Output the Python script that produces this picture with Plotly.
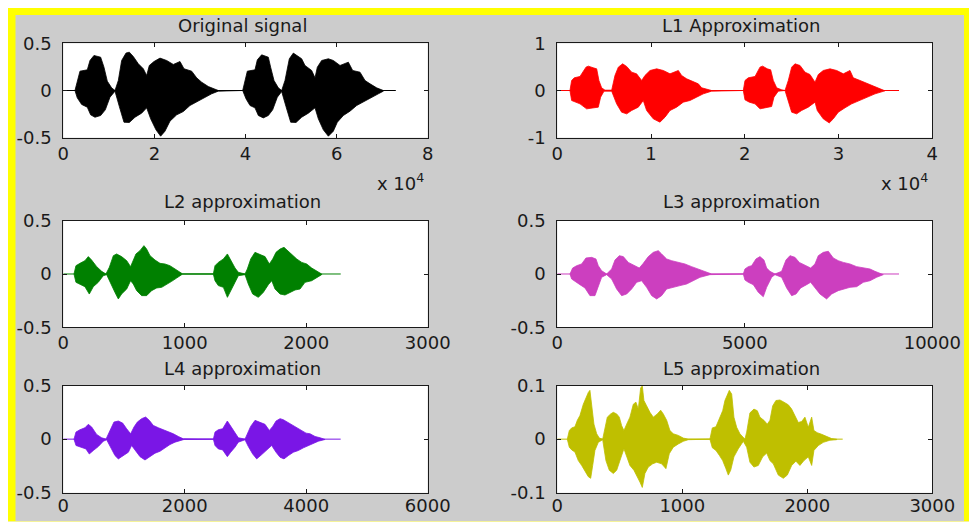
import plotly.graph_objects as go

# ---------------------------------------------------------------
# Envelope of each waveform (upper and lower edges, both words)
# ---------------------------------------------------------------
orig_up_x = [2560, 3070, 3660, 5270, 5860, 6730, 8200, 8930, 9660, 10610, 11350,
             12080, 12810, 13760, 14490, 15370, 16470, 17570, 18300,
             18880, 19910, 21230, 22690, 24150, 25620, 26500, 28180, 29280, 30380, 31840, 33300, 34030,
             39380, 39890, 40400, 42080, 42600, 43550, 45010, 45520, 46260, 47210, 47940,
             48670, 49620, 50500, 51380, 52330, 53060, 54530, 55260,
             55770, 56720, 58190, 59280, 60750, 62580, 63530, 65140, 66240, 67340, 68800, 70260]
orig_up_y = [0, 0.088, 0.205, 0.219, 0.318, 0.371, 0.353, 0.247, 0.099, 0.028, 0,
             0.106, 0.318, 0.396, 0.406, 0.360, 0.283, 0.230, 0.159,
             0.265, 0.307, 0.343, 0.318, 0.276, 0.307, 0.230, 0.205, 0.134, 0.088, 0.042, 0.014, 0,
             0, 0.106, 0.205, 0.219, 0.325, 0.378, 0.353, 0.247, 0.106, 0.028, 0,
             0.106, 0.336, 0.396, 0.371, 0.336, 0.265, 0.212, 0.134,
             0.247, 0.318, 0.336, 0.318, 0.265, 0.300, 0.212, 0.194, 0.106, 0.071, 0.028, 0]
orig_lo_x = [2560, 3070, 4030, 5270, 6000, 6950, 8200, 9220, 10250, 11350,
             12300, 13320, 14490, 15740, 17200, 18300,
             19180, 20350, 21370, 22320, 23420, 24890, 26350, 27810, 29280, 30890, 32570, 34030,
             39380, 40110, 40990, 42080, 42820, 43910, 45010, 45960, 46990, 47940,
             48890, 49920, 51090, 52330, 53800, 55260,
             55990, 57090, 58190, 59280, 60160, 61480, 62940, 64410, 65870, 67480, 69170, 70260]
orig_lo_y = [0, -0.078, -0.148, -0.177, -0.258, -0.283, -0.265, -0.205, -0.071, -0.007,
             -0.170, -0.336, -0.339, -0.283, -0.240, -0.184,
             -0.300, -0.417, -0.484, -0.431, -0.325, -0.258, -0.223, -0.159, -0.117, -0.081, -0.035, -0.007,
             0, -0.088, -0.159, -0.184, -0.265, -0.290, -0.265, -0.205, -0.071, -0.011,
             -0.170, -0.336, -0.339, -0.283, -0.240, -0.184,
             -0.300, -0.417, -0.484, -0.431, -0.336, -0.265, -0.219, -0.159, -0.113, -0.078, -0.035, -0.007]

l1_up_x = [1350, 1530, 1810, 2420, 3060, 3310, 3840, 4200, 4440, 4730,
           5090, 5800, 6150, 6510, 6970, 7400, 7930, 8460, 9000, 9350,
           9890, 10600, 11310, 12020, 12910, 13260, 13800, 14510, 15040, 15400,
           15930, 16460,
           19840, 20020, 20370, 21090, 21620, 21900, 22400, 22760, 23040, 23400,
           23930, 24290, 24640, 25000, 25350, 25890, 26420, 26950, 27490, 27840,
           28370, 29090, 29800, 30510, 31220, 31570, 32290, 33000, 33710, 34420,
           34950]
l1_up_y = [0, 0.212, 0.269, 0.297, 0.495, 0.516, 0.481, 0.459, 0.212, 0.057,
           0.007, 0.007, 0.318, 0.495, 0.565, 0.509, 0.389, 0.353, 0.212, 0.318,
           0.424, 0.459, 0.424, 0.353, 0.424, 0.318, 0.247, 0.177, 0.141, 0.057,
           0.035, 0,
           0, 0.212, 0.269, 0.297, 0.495, 0.516, 0.459, 0.438, 0.212, 0.057,
           0.014, 0, 0.212, 0.495, 0.565, 0.530, 0.389, 0.339, 0.177, 0.339,
           0.424, 0.459, 0.424, 0.353, 0.424, 0.269, 0.212, 0.155, 0.085, 0.035,
           0]
l1_lo_x = [1350, 1530, 1890, 2420, 3130, 3840, 4370, 4620, 4980, 5800,
           6330, 6860, 7400, 7930, 8640, 9170, 9530, 10240, 10950, 11490,
           12020, 12730, 13440, 14150, 14860, 15570, 16460,
           19840, 20020, 20480, 21090, 21620, 22330, 22860, 23110, 23570, 24290,
           24640, 25000, 25530, 26060, 26770, 27490, 27730, 28370, 29010, 29440,
           29970, 30690, 31400, 32110, 33000, 33890, 34950]
l1_lo_y = [0, -0.212, -0.247, -0.283, -0.389, -0.367, -0.353, -0.141, -0.014, -0.014,
           -0.283, -0.459, -0.495, -0.424, -0.353, -0.212, -0.424, -0.601, -0.671, -0.565,
           -0.424, -0.353, -0.247, -0.212, -0.141, -0.071, -0.014,
           0, -0.198, -0.247, -0.283, -0.389, -0.367, -0.339, -0.141, -0.014, 0,
           -0.212, -0.459, -0.495, -0.424, -0.353, -0.247, -0.424, -0.601, -0.686, -0.601,
           -0.459, -0.367, -0.283, -0.212, -0.141, -0.071, -0.007]

l2_up_x = [88, 104, 137, 178, 206, 233, 275, 316, 351, 379,
           412, 439, 480, 522, 554, 576, 598, 631, 664, 686,
           714, 755, 796, 837, 878, 920, 961, 983,
           1235, 1249, 1276, 1318, 1351, 1378, 1414, 1441, 1496, 1515,
           1543, 1578, 1614, 1661, 1696, 1724, 1751, 1784, 1817, 1845,
           1880, 1922, 1963, 2004, 2045, 2086, 2127]
l2_up_y = [0, 0.078, 0.100, 0.125, 0.163, 0.131, 0.069, 0.025, 0, 0.063,
           0.172, 0.188, 0.163, 0.125, 0.069, 0.125, 0.188, 0.219, 0.266, 0.234,
           0.172, 0.131, 0.100, 0.094, 0.078, 0.047, 0.016, 0,
           0, 0.078, 0.109, 0.141, 0.188, 0.125, 0.056, 0.016, 0, 0.047,
           0.141, 0.203, 0.188, 0.163, 0.094, 0.141, 0.203, 0.234, 0.250, 0.219,
           0.181, 0.141, 0.109, 0.094, 0.056, 0.031, 0]
l2_lo_x = [88, 104, 137, 178, 214, 247, 288, 329, 357, 384,
           425, 453, 480, 522, 554, 576, 604, 645, 686, 727,
           769, 810, 851, 892, 933, 974, 983,
           1235, 1249, 1276, 1318, 1351, 1378, 1414, 1441, 1496, 1523,
           1559, 1606, 1647, 1688, 1716, 1743, 1784, 1825, 1867, 1908,
           1949, 1990, 2045, 2086, 2127]
l2_lo_y = [0, -0.078, -0.094, -0.119, -0.188, -0.119, -0.078, -0.016, -0.006, -0.078,
           -0.172, -0.234, -0.188, -0.141, -0.063, -0.094, -0.156, -0.203, -0.203, -0.156,
           -0.131, -0.125, -0.094, -0.069, -0.038, -0.006, 0,
           0, -0.063, -0.109, -0.125, -0.219, -0.156, -0.078, -0.016, -0.006, -0.094,
           -0.188, -0.219, -0.172, -0.100, -0.063, -0.141, -0.188, -0.197, -0.172, -0.150,
           -0.141, -0.078, -0.063, -0.031, -0.006]

l3_up_x = [338, 409, 516, 649, 764, 916, 1031, 1093, 1182, 1316,
           1449, 1538, 1653, 1760, 1893, 2027, 2187, 2293, 2427, 2560,
           2693, 2782, 2916, 3049, 3227, 3404, 3582, 3760, 3938, 4116,
           4960, 5004, 5093, 5182, 5298, 5404, 5511, 5582, 5671, 5804,
           5982, 6098, 6204, 6338, 6453, 6542, 6649, 6756, 6871, 6960,
           7093, 7227, 7360, 7493, 7627, 7804, 7982, 8160, 8338, 8471,
           8604, 8693]
l3_up_y = [0, 0.056, 0.078, 0.094, 0.150, 0.156, 0.141, 0.078, 0.031, 0,
           0.047, 0.131, 0.172, 0.163, 0.109, 0.088, 0.056, 0.100, 0.163, 0.203,
           0.219, 0.188, 0.141, 0.125, 0.109, 0.094, 0.069, 0.047, 0.025, 0,
           0, 0.047, 0.069, 0.078, 0.141, 0.163, 0.131, 0.056, 0.025, 0,
           0.025, 0.131, 0.172, 0.156, 0.109, 0.094, 0.069, 0.056, 0.094, 0.172,
           0.203, 0.213, 0.150, 0.125, 0.109, 0.094, 0.069, 0.056, 0.047, 0.025,
           0.006, 0]
l3_lo_x = [338, 382, 516, 604, 738, 871, 1004, 1093, 1182, 1316,
           1449, 1582, 1716, 1849, 1982, 2116, 2249, 2382, 2516, 2649,
           2782, 2916, 3093, 3271, 3449, 3627, 3805, 4071, 4116,
           4960, 5004, 5093, 5227, 5360, 5493, 5582, 5716, 5804, 5982,
           6116, 6249, 6365, 6489, 6649, 6756, 6871, 7004, 7182, 7316,
           7493, 7627, 7804, 7982, 8160, 8338, 8516, 8693]
l3_lo_y = [0, -0.047, -0.078, -0.100, -0.131, -0.203, -0.203, -0.125, -0.031, -0.006,
           -0.047, -0.141, -0.203, -0.188, -0.141, -0.078, -0.063, -0.125, -0.203, -0.234,
           -0.203, -0.141, -0.125, -0.109, -0.094, -0.063, -0.031, -0.006, 0,
           0, -0.056, -0.078, -0.100, -0.172, -0.213, -0.125, -0.031, -0.006, -0.031,
           -0.131, -0.203, -0.188, -0.131, -0.100, -0.078, -0.125, -0.188, -0.234, -0.188,
           -0.156, -0.141, -0.125, -0.119, -0.078, -0.063, -0.031, -0.006]

l4_up_x = [176, 209, 275, 357, 412, 467, 549, 631, 703, 769,
           834, 906, 977, 1043, 1109, 1164, 1219, 1290, 1356, 1416,
           1482, 1565, 1647, 1729, 1812, 1894, 1976,
           2471, 2498, 2553, 2624, 2701, 2756, 2827, 2882, 2992, 3031,
           3085, 3157, 3228, 3321, 3393, 3448, 3503, 3569, 3623, 3689,
           3777, 3854, 3925, 3997, 4063, 4145, 4227, 4310]
l4_up_y = [0, 0.066, 0.088, 0.106, 0.138, 0.113, 0.044, 0.013, 0, 0.081,
           0.159, 0.169, 0.150, 0.097, 0.050, 0.113, 0.159, 0.191, 0.206, 0.175,
           0.128, 0.106, 0.088, 0.066, 0.050, 0.025, 0.003,
           0, 0.066, 0.088, 0.097, 0.169, 0.119, 0.050, 0.013, 0, 0.050,
           0.119, 0.175, 0.159, 0.138, 0.081, 0.119, 0.169, 0.191, 0.181, 0.159,
           0.128, 0.106, 0.081, 0.056, 0.050, 0.025, 0.013, 0]
l4_lo_x = [176, 209, 275, 373, 428, 494, 576, 659, 714, 780,
           851, 906, 977, 1071, 1125, 1180, 1263, 1345, 1427, 1510,
           1592, 1674, 1757, 1839, 1921, 1987,
           2471, 2498, 2553, 2624, 2701, 2756, 2827, 2882, 2992, 3047,
           3118, 3184, 3267, 3349, 3431, 3503, 3569, 3634, 3706, 3788,
           3870, 3953, 4035, 4118, 4200, 4310]
l4_lo_y = [0, -0.059, -0.075, -0.091, -0.138, -0.106, -0.069, -0.019, -0.006, -0.075,
           -0.153, -0.184, -0.153, -0.122, -0.059, -0.106, -0.163, -0.194, -0.163, -0.131,
           -0.113, -0.081, -0.050, -0.028, -0.013, -0.003,
           0, -0.059, -0.091, -0.100, -0.163, -0.122, -0.075, -0.028, -0.006, -0.069,
           -0.138, -0.184, -0.144, -0.106, -0.059, -0.122, -0.169, -0.184, -0.153, -0.122,
           -0.106, -0.081, -0.059, -0.038, -0.019, -0.003]

l5_up_x = [80, 96, 115, 141, 160, 181, 208, 229, 248, 261,
           275, 293, 315, 336, 363, 381, 400, 427, 448, 475,
           496, 515, 533, 555, 581, 608, 629, 648, 667, 680,
           693, 715, 741, 768, 800, 827, 848, 875, 901, 928,
           968, 1008, 1048,
           1221, 1240, 1269, 1296, 1323, 1341, 1360, 1376, 1395, 1413,
           1435, 1461, 1501, 1515, 1541, 1573, 1600, 1621, 1653, 1680,
           1701, 1723, 1749, 1781, 1813, 1848, 1875, 1901, 1928, 1955,
           1981, 2008, 2035, 2053, 2080, 2115, 2155, 2195, 2235]
l5_up_y = [0, 0.016, 0.021, 0.023, 0.035, 0.044, 0.065, 0.078, 0.087, 0.091,
           0.065, 0.028, 0.010, 0.002, 0, 0.022, 0.041, 0.047, 0.050, 0.047,
           0.041, 0.025, 0.016, 0.028, 0.041, 0.065, 0.069, 0.056, 0.096, 0.099,
           0.072, 0.062, 0.050, 0.041, 0.047, 0.054, 0.047, 0.035, 0.016, 0.010,
           0.007, 0.002, 0,
           0, 0.021, 0.023, 0.037, 0.053, 0.072, 0.081, 0.091, 0.084, 0.041,
           0.022, 0.010, 0, 0.013, 0.049, 0.056, 0.053, 0.041, 0.035, 0.028,
           0.035, 0.062, 0.072, 0.073, 0.069, 0.064, 0.056, 0.044, 0.031, 0.033,
           0.041, 0.022, 0.041, 0.016, 0.012, 0.009, 0.005, 0.001, 0]
l5_lo_x = [80, 96, 115, 141, 168, 195, 221, 248, 267, 283,
           301, 328, 363, 389, 416, 448, 475, 501, 533, 555,
           581, 613, 640, 661, 680, 701, 728, 763, 795, 835,
           869, 896, 928, 968, 1008, 1048,
           1221, 1240, 1269, 1296, 1323, 1349, 1368, 1387, 1413, 1448,
           1488, 1515, 1541, 1573, 1608, 1643, 1675, 1701, 1728, 1768,
           1808, 1840, 1875, 1909, 1941, 1973, 2008, 2035, 2053, 2088,
           2128, 2181, 2235]
l5_lo_y = [0, -0.015, -0.020, -0.024, -0.040, -0.049, -0.058, -0.070, -0.073, -0.049,
           -0.021, -0.006, -0.001, -0.040, -0.058, -0.064, -0.058, -0.040, -0.018, -0.033,
           -0.049, -0.058, -0.070, -0.080, -0.090, -0.064, -0.052, -0.046, -0.043, -0.046,
           -0.055, -0.027, -0.015, -0.009, -0.004, -0.001,
           0, -0.016, -0.021, -0.030, -0.040, -0.055, -0.067, -0.058, -0.033, -0.018,
           -0.004, -0.015, -0.043, -0.052, -0.049, -0.033, -0.026, -0.040, -0.046, -0.067,
           -0.073, -0.067, -0.049, -0.041, -0.049, -0.040, -0.033, -0.049, -0.021, -0.012,
           -0.006, -0.002, -0.001]

# Number of samples in each signal (the flat trace runs to the end)
signal_lengths = [73000, 36450, 2284, 9112, 4567, 2283]

titles = ["Original signal", "L1 Approximation", "L2 approximation",
          "L3 approximation", "L4 approximation", "L5 approximation"]
colors = ["#000000", "#ff0000", "#008000", "#cc3fbf", "#7a16e6", "#bfbf00"]

x_ranges = [[0, 80000], [0, 40000], [0, 3000], [0, 10000], [0, 6000], [0, 3000]]
x_tickvals = [[0, 20000, 40000, 60000, 80000], [0, 10000, 20000, 30000, 40000],
              [0, 1000, 2000, 3000], [0, 5000, 10000], [0, 2000, 4000, 6000],
              [0, 1000, 2000, 3000]]
x_ticktext = [["0", "2", "4", "6", "8"], ["0", "1", "2", "3", "4"],
              ["0", "1000", "2000", "3000"], ["0", "5000", "10000"],
              ["0", "2000", "4000", "6000"], ["0", "1000", "2000", "3000"]]
y_ranges = [[-0.5, 0.5], [-1, 1], [-0.5, 0.5], [-0.5, 0.5], [-0.5, 0.5], [-0.1, 0.1]]
y_tickvals = [[-0.5, 0, 0.5], [-1, 0, 1], [-0.5, 0, 0.5], [-0.5, 0, 0.5],
              [-0.5, 0, 0.5], [-0.1, 0, 0.1]]
y_ticktext = [["-0.5", "0", "0.5"], ["-1", "0", "1"], ["-0.5", "0", "0.5"],
              ["-0.5", "0", "0.5"], ["-0.5", "0", "0.5"], ["-0.1", "0", "0.1"]]

envelopes = [
    (orig_up_x, orig_up_y, orig_lo_x, orig_lo_y),
    (l1_up_x, l1_up_y, l1_lo_x, l1_lo_y),
    (l2_up_x, l2_up_y, l2_lo_x, l2_lo_y),
    (l3_up_x, l3_up_y, l3_lo_x, l3_lo_y),
    (l4_up_x, l4_up_y, l4_lo_x, l4_lo_y),
    (l5_up_x, l5_up_y, l5_lo_x, l5_lo_y),
]

# ---------------------------------------------------------------
# Page geometry (pixels)
# ---------------------------------------------------------------
W, H = 969, 522
col_px = [(63.3, 427.7), (557.3, 932.3)]
row_px = [(43.3, 137.7), (220.7, 327.3), (385.5, 492.8)]
row_label_standoff = [0, -1, -3]
FONT = "DejaVu Sans"
FS = 18
INK = "#1a1a1a"


def fx(px):
    return px / W


def fy(py):
    return 1 - py / H


fig = go.Figure()
layout = dict(
    template="none",
    width=W, height=H,
    margin=dict(l=0, r=0, t=0, b=0, pad=0, autoexpand=False),
    paper_bgcolor="#cccccc",
    plot_bgcolor="#ffffff",
    showlegend=False,
    font=dict(family=FONT, size=FS, color=INK),
)

annotations = []
for i in range(6):
    r, c = divmod(i, 2)
    x0, x1 = col_px[c]
    y0, y1 = row_px[r]
    sfx = "" if i == 0 else str(i + 1)
    xa, ya = "x" + sfx, "y" + sfx

    axis_common = dict(
        showline=True, linecolor=INK, linewidth=1, mirror="ticks",
        ticks="inside", ticklen=4, tickwidth=1, tickcolor=INK,
        showgrid=False, zeroline=False, fixedrange=True, automargin=False,
        tickfont=dict(family=FONT, size=FS, color=INK),
    )
    layout["xaxis" + sfx] = dict(
        axis_common, domain=[fx(x0), fx(x1)], anchor=ya,
        range=x_ranges[i], tickmode="array",
        tickvals=x_tickvals[i], ticktext=x_ticktext[i],
        ticklabelstandoff=row_label_standoff[r],
    )
    layout["yaxis" + sfx] = dict(
        axis_common, domain=[fy(y1), fy(y0)], anchor=xa,
        range=y_ranges[i], tickmode="array",
        tickvals=y_tickvals[i], ticktext=y_ticktext[i], ticklabelstandoff=7,
    )

    up_x, up_y, lo_x, lo_y = envelopes[i]
    # flat trace across the whole signal
    fig.add_trace(go.Scatter(
        x=[0, signal_lengths[i]], y=[0, 0], mode="lines",
        line=dict(color=colors[i], width=1), xaxis=xa, yaxis=ya,
        hoverinfo="skip"))
    # filled waveform body between the upper and lower envelopes
    fig.add_trace(go.Scatter(
        x=up_x + lo_x[::-1], y=up_y + lo_y[::-1], mode="lines",
        fill="toself", fillcolor=colors[i],
        line=dict(color=colors[i], width=0.8),
        xaxis=xa, yaxis=ya, hoverinfo="skip"))

    # subplot title
    title_cy = [25.5, 201.5, 368][r]
    annotations.append(dict(
        text=titles[i], x=fx((x0 + x1) / 2 - 3), y=fy(title_cy),
        xref="paper", yref="paper", xanchor="center", yanchor="middle",
        showarrow=False, font=dict(family=FONT, size=FS, color=INK)))

# scale factor labels for the first row
for c in range(2):
    annotations.append(dict(
        text="x 10<sup>4</sup>", x=fx(col_px[c][1] - 2), y=fy(182),
        xref="paper", yref="paper", xanchor="right", yanchor="middle",
        showarrow=False, font=dict(family=FONT, size=FS, color=INK)))

layout["annotations"] = annotations

# window frame: white page edge and yellow border
YEL = "#ffff00"
layout["shapes"] = [
    dict(type="rect", xref="paper", yref="paper", x0=0, x1=1, y0=fy(8), y1=1,
         fillcolor="#ffffff", line_width=0, layer="above"),
    dict(type="rect", xref="paper", yref="paper", x0=0, x1=fx(8), y0=0, y1=1,
         fillcolor="#ffffff", line_width=0, layer="above"),
    dict(type="rect", xref="paper", yref="paper", x0=fx(8), x1=1, y0=fy(15), y1=fy(8),
         fillcolor=YEL, line_width=0, layer="above"),
    dict(type="rect", xref="paper", yref="paper", x0=fx(8), x1=fx(15.5), y0=0, y1=fy(8),
         fillcolor=YEL, line_width=0, layer="above"),
    dict(type="rect", xref="paper", yref="paper", x0=fx(964), x1=1, y0=0, y1=fy(8),
         fillcolor=YEL, line_width=0, layer="above"),
    dict(type="rect", xref="paper", yref="paper", x0=fx(8), x1=1, y0=0, y1=fy(521),
         fillcolor="#f4f29a", line_width=0, layer="above"),
]

fig.update_layout(**layout)
fig.write_html("out.html")
